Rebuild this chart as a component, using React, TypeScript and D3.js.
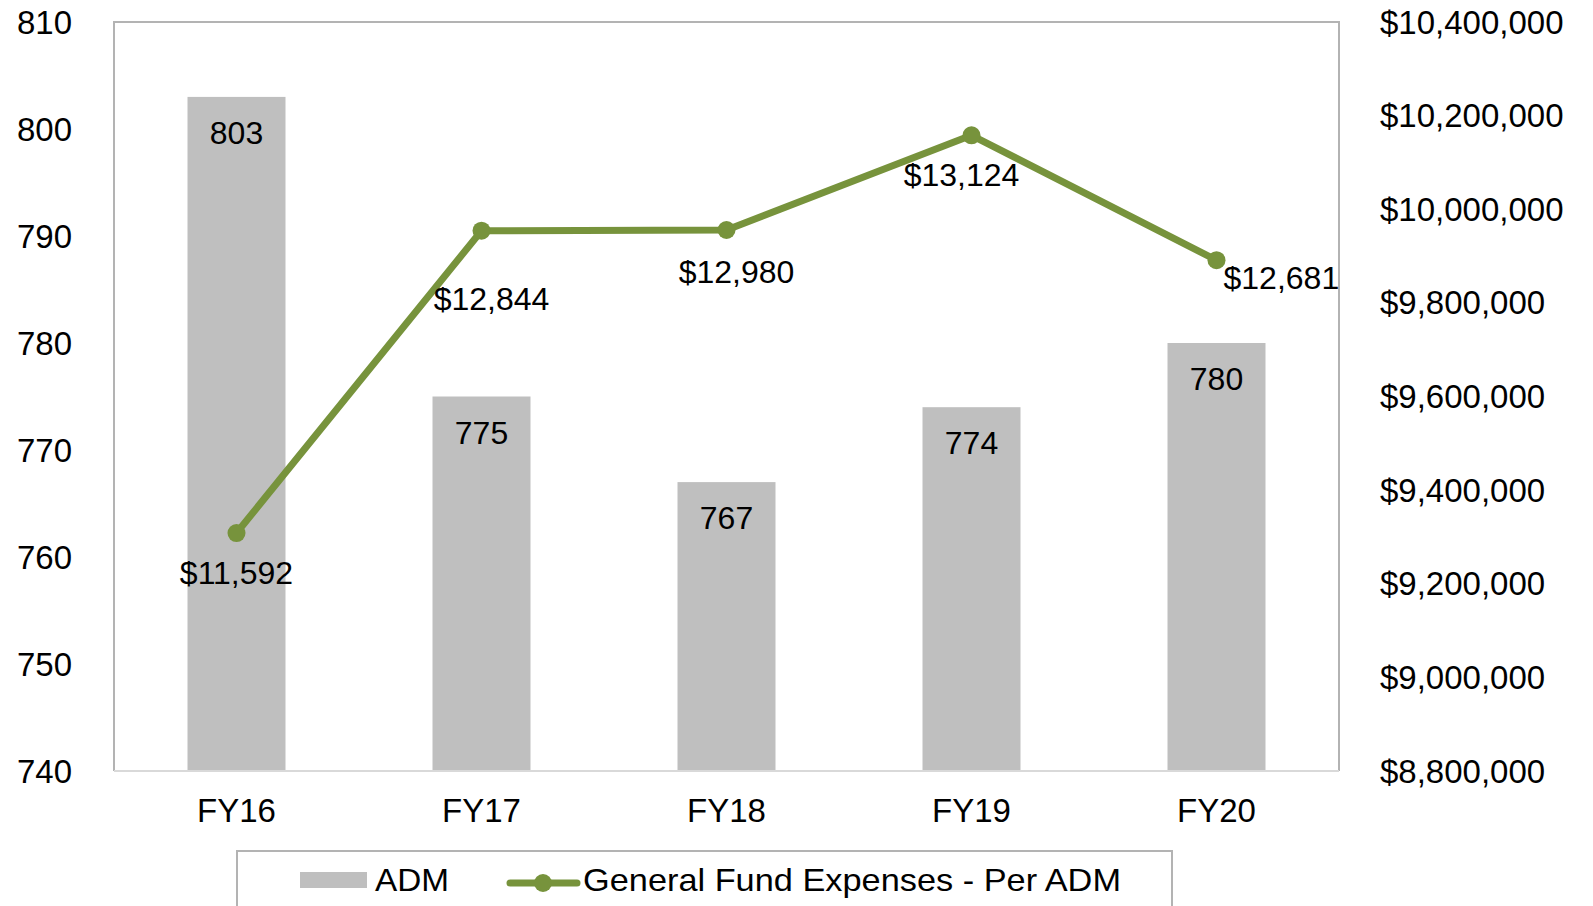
import React from 'react'
import * as d3 from 'd3'

const years = ['FY16', 'FY17', 'FY18', 'FY19', 'FY20']
const adm = [803, 775, 767, 774, 780]
const perAdm = [11592, 12844, 12980, 13124, 12681]
// total general fund expenses, plotted against the right axis
const expenses = [9308376, 9954100, 9955660, 10157976, 9891180]
const admTicks = [740, 750, 760, 770, 780, 790, 800, 810]
const expenseTicks = [8800000, 9000000, 9200000, 9400000, 9600000, 9800000, 10000000, 10200000, 10400000]

const W = 1593, H = 906
const left = 114, right = 1339, top = 22, bottom = 771
const green = '#77933c'
const barColor = '#bfbfbf'
const font = '"Liberation Sans", Arial, sans-serif'

// small manual nudges of the per-ADM labels, like the original
const lineLabelNudge = [[0, 40], [10, 68], [10, 42], [-10, 40], [52, 18]]

function App() {
    let x = d3.scaleBand().domain(years).range([left, right]).paddingInner(0.6).paddingOuter(0.3)
    let yL = d3.scaleLinear().domain([740, 810]).range([bottom, top])
    let yR = d3.scaleLinear().domain([8800000, 10400000]).range([bottom, top])
    let cx = (d) => x(d) + x.bandwidth() / 2
    let money = d3.format('$,')

    let line = d3.line()
        .x((d, i) => cx(years[i]))
        .y((d) => yR(d))

    return (
        <svg width={W} height={H} style={{position: 'absolute', left: 0, top: 0, background: '#fff'}} fontFamily={font}>
            {/* bars */}
            {adm.map((v, i) => (
                <rect key={'b' + i} x={x(years[i])} y={yL(v)} width={x.bandwidth()} height={bottom - yL(v)} fill={barColor} />
            ))}
            {/* plot border */}
            <path d={`M${left},${bottom}V${top}H${right}V${bottom}`} fill="none" stroke="#b3b3b3" strokeWidth={2} />
            <line x1={left} x2={right} y1={bottom} y2={bottom} stroke="#d9d9d9" strokeWidth={2} />

            {/* bar labels */}
            {adm.map((v, i) => (
                <text key={'bl' + i} x={cx(years[i])} y={yL(v) + 36} fontSize={32} textAnchor="middle" dominantBaseline="central">{v}</text>
            ))}

            {/* line */}
            <path d={line(expenses)} fill="none" stroke={green} strokeWidth={7} strokeLinejoin="round" />
            {expenses.map((v, i) => (
                <circle key={'p' + i} cx={cx(years[i])} cy={yR(v)} r={9} fill={green} />
            ))}
            {perAdm.map((v, i) => (
                <text key={'ll' + i} x={cx(years[i]) + lineLabelNudge[i][0]} y={yR(expenses[i]) + lineLabelNudge[i][1]}
                    fontSize={32} textAnchor={i === 4 ? 'start' : 'middle'} dominantBaseline="central"
                    dx={i === 4 ? -45 : 0}>{money(v)}</text>
            ))}

            {/* left axis */}
            {admTicks.map((t) => (
                <text key={'l' + t} x={72} y={yL(t)} fontSize={33} textAnchor="end" dominantBaseline="central">{t}</text>
            ))}
            {/* right axis */}
            {expenseTicks.map((t) => (
                <text key={'r' + t} x={1380} y={yR(t)} fontSize={33} textAnchor="start" dominantBaseline="central">{money(t)}</text>
            ))}
            {/* x axis */}
            {years.map((yr) => (
                <text key={'x' + yr} x={cx(yr)} y={810} fontSize={33} textAnchor="middle" dominantBaseline="central">{yr}</text>
            ))}

            {/* legend */}
            <rect x={237} y={851} width={935} height={70} fill="#fff" stroke="#b3b3b3" strokeWidth={2} />
            <rect x={300} y={872} width={67} height={16} fill={barColor} />
            <text x={375} y={880} fontSize={32} dominantBaseline="central" textLength={74} lengthAdjust="spacingAndGlyphs">ADM</text>
            <line x1={510} x2={577} y1={883} y2={883} stroke={green} strokeWidth={7} strokeLinecap="round" />
            <circle cx={543} cy={883} r={9} fill={green} />
            <text x={583} y={880} fontSize={32} dominantBaseline="central" textLength={538} lengthAdjust="spacingAndGlyphs">General Fund Expenses - Per ADM</text>
        </svg>
    )
}

export default App
